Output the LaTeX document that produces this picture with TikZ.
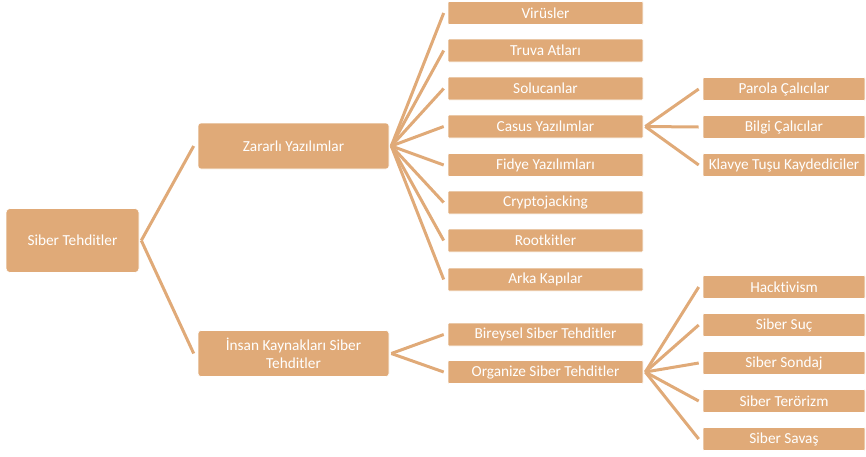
\documentclass[tikz,border=0pt]{standalone}
\usepackage{fontspec}
\setmainfont[Ligatures={NoCommon}]{Carlito}
\usetikzlibrary{calc}
\definecolor{boxc}{RGB}{224,170,120}
\tikzset{
  box/.style={rectangle, fill=boxc, draw=white, line width=0.6pt, text=white,
    inner sep=0pt, align=center, font=\fontsize{15.3}{17.5}\selectfont},
  rootbox/.style={box, rounded corners=4pt, minimum width=133pt, minimum height=64pt},
  midbox/.style={box, rounded corners=3pt, minimum width=191pt, minimum height=46pt},
  leafbox/.style={box, rounded corners=1pt, minimum width=195pt, minimum height=23pt},
  subbox/.style={box, rounded corners=1pt, minimum width=162pt, minimum height=23pt},
  link/.style={draw=boxc, line width=3pt}
}
\newcommand{\branch}[2]{\draw[link] ($(#1.east)+(2,0)$) -- ($(#2.west)+(-4,0)$);}
\begin{document}
\begin{tikzpicture}[x=1pt, y=-1pt]
\useasboundingbox (0,0) rectangle (866,456);

% root and first level
\node[rootbox] (root) at (72.5,240.5) {Siber Tehditler};
\node[midbox] (zy) at (293.5,146) {Zararlı Yazılımlar};
\node[midbox] (ik) at (293.5,353.5) {İnsan Kaynakları Siber\\Tehditler};

% malware types
\node[leafbox] (vir) at (545.5,13) {Virüsler};
\node[leafbox] (tru) at (545.5,50.5) {Truva Atları};
\node[leafbox] (sol) at (545.5,88.5) {Solucanlar};
\node[leafbox] (cas) at (545.5,126.5) {Casus Yazılımlar};
\node[leafbox] (fid) at (545.5,165) {Fidye Yazılımları};
\node[leafbox] (cry) at (545.5,202.5) {Cryptojacking};
\node[leafbox] (roo) at (545.5,240.5) {Rootkitler};
\node[leafbox] (ark) at (545.5,279.5) {Arka Kapılar};

% spyware types
\node[subbox] (par) at (784,89) {Parola Çalıcılar};
\node[subbox] (bil) at (784,127) {Bilgi Çalıcılar};
\node[subbox] (kla) at (784,165) {Klavye Tuşu Kaydediciler};

% human-sourced threats
\node[leafbox] (bir) at (545.5,334.5) {Bireysel Siber Tehditler};
\node[leafbox] (org) at (545.5,372) {Organize Siber Tehditler};

% organised threat types
\node[subbox] (hac) at (784,287) {Hacktivism};
\node[subbox] (suc) at (784,325) {Siber Suç};
\node[subbox] (son) at (784,363) {Siber Sondaj};
\node[subbox] (ter) at (784,401) {Siber Terörizm};
\node[subbox] (sav) at (784,439) {Siber Savaş};

% connectors
\branch{root}{zy}
\branch{root}{ik}
\foreach \c in {vir,tru,sol,cas,fid,cry,roo,ark} {\branch{zy}{\c}}
\foreach \c in {par,bil,kla} {\branch{cas}{\c}}
\foreach \c in {bir,org} {\branch{ik}{\c}}
\foreach \c in {hac,suc,son,ter,sav} {\branch{org}{\c}}
\end{tikzpicture}
\end{document}
